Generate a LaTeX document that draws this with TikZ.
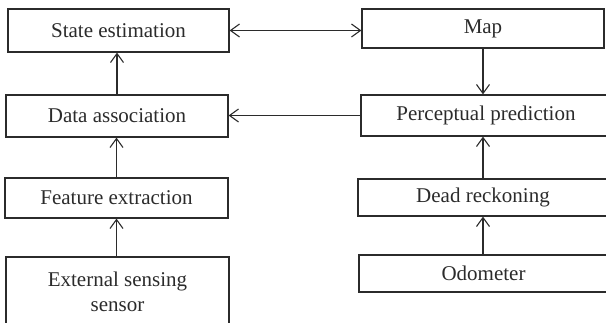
\documentclass[tikz,border=0pt]{standalone}
\usepackage{fontspec}
\setmainfont{Liberation Serif}
\usetikzlibrary{arrows.meta}
\definecolor{ink}{HTML}{2B2B2B}
\begin{document}
\begin{tikzpicture}[x=1pt,y=-1pt,
  box/.style={draw=ink, line width=1.2pt, rectangle, inner sep=0pt},
  lbl/.style={text=ink, font=\fontsize{21}{25}\selectfont, inner sep=0pt, align=center},
  flow/.style={draw=ink, line width=1.1pt, -{Straight Barb[length=9pt,width=13pt,line width=1.1pt]}},
  flow2/.style={draw=ink, line width=1.1pt, {Straight Barb[length=9pt,width=13pt,line width=1.1pt]}-{Straight Barb[length=9pt,width=13pt,line width=1.1pt]}}]
\useasboundingbox (0,0) rectangle (606,323);
\clip (0,0) rectangle (606,323);

% left column
\node[box, lbl, minimum width=221pt, minimum height=43pt] (se) at (118.5,30.5) {State estimation};
\node[box, lbl, minimum width=222pt, minimum height=42pt] (da) at (117,116) {Data association};
\node[box, lbl, minimum width=223pt, minimum height=40pt] (fe) at (116.5,198) {Feature extraction};
\node[box, minimum width=223pt, minimum height=88pt] (es) at (117.5,301) {};
\node[lbl] (est) at (117.5,292) {External sensing\\sensor};

% right column
\node[box, lbl, minimum width=242pt, minimum height=39pt] (map) at (483,28.5) {Map};
\node[box, minimum width=264pt, minimum height=41pt] (pp) at (493,115.5) {};
\node[lbl] (ppt) at (486,115.5) {Perceptual prediction};
\node[box, minimum width=267pt, minimum height=37pt] (dr) at (491.5,197.5) {};
\node[lbl] (drt) at (483,197.5) {Dead reckoning};
\node[box, minimum width=266pt, minimum height=37pt] (od) at (492,273.5) {};
\node[lbl] (odt) at (483.5,273.5) {Odometer};

% connectors
\draw[flow2] (se.east) -- (se.east -| map.west);
\draw[flow] (map.south) -- (map.south |- pp.north);
\draw[flow] (pp.west) -- (pp.west -| da.east);
\draw[flow] (drt |- dr.north) -- (drt |- pp.south);
\draw[flow] (drt |- od.north) -- (drt |- dr.south);
\draw[flow] (da.north) -- (da.north |- se.south);
\draw[flow] (fe.north) -- (fe.north |- da.south);
\draw[flow] (fe.south |- es.north) -- (fe.south);
\end{tikzpicture}
\end{document}
